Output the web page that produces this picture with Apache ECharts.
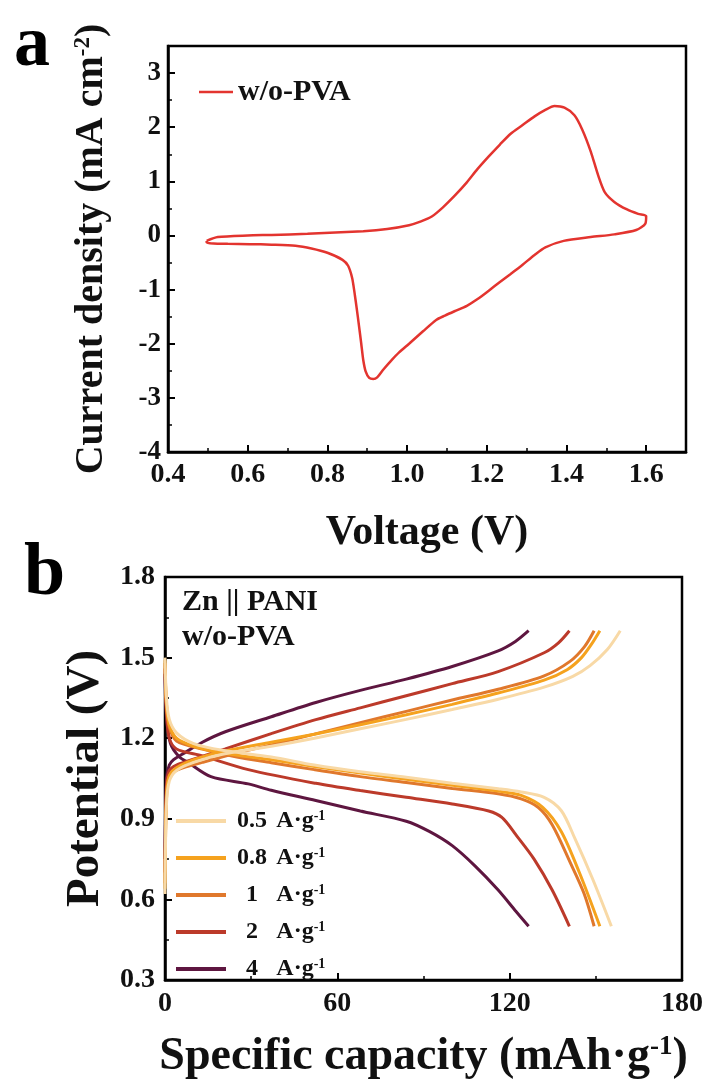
<!DOCTYPE html>
<html>
<head>
<meta charset="utf-8">
<script src="https://cdn.jsdelivr.net/npm/echarts@6/dist/echarts.min.js"></script>
<style>
html,body{margin:0;padding:0;background:#fff;}
#c{width:712px;height:1083px;}
</style>
</head>
<body>
<div id="c"></div>
<script>
// ---------- Panel a: CV loop (voltage V, current density mA cm-2) ----------
const cvLoop = [
  [0.497,-0.10],[0.525,-0.03],[0.60,0.00],[0.66,0.01],[0.75,0.03],[0.89,0.08],[0.95,0.12],
  [1.005,0.19],[1.035,0.26],[1.062,0.35],[1.09,0.52],[1.119,0.73],[1.15,0.98],[1.176,1.22],
  [1.205,1.46],[1.233,1.68],[1.26,1.88],[1.29,2.04],[1.32,2.20],[1.347,2.32],[1.370,2.39],
  [1.395,2.36],[1.42,2.22],[1.44,1.95],[1.461,1.55],[1.48,1.10],[1.496,0.80],[1.52,0.62],
  [1.552,0.48],[1.58,0.40],[1.600,0.36],[1.598,0.22],[1.575,0.10],[1.52,0.02],[1.461,-0.03],
  [1.393,-0.10],[1.347,-0.22],[1.32,-0.36],[1.29,-0.54],[1.26,-0.71],[1.233,-0.86],
  [1.205,-1.02],[1.176,-1.18],[1.15,-1.30],[1.119,-1.40],[1.095,-1.48],[1.073,-1.56],
  [1.04,-1.77],[1.005,-2.00],[0.98,-2.16],[0.959,-2.32],[0.94,-2.48],[0.925,-2.62],
  [0.915,-2.65],[0.905,-2.63],[0.896,-2.51],[0.89,-2.30],[0.885,-2.00],[0.879,-1.65],
  [0.874,-1.37],[0.868,-1.05],[0.862,-0.78],[0.852,-0.56],[0.838,-0.45],[0.80,-0.32],
  [0.76,-0.24],[0.72,-0.19],[0.66,-0.17],[0.605,-0.16],[0.55,-0.155],[0.514,-0.15],
  [0.497,-0.13],[0.497,-0.10]
];
const cvName = 'w/o-PVA';
const cvXTicks = [0.4, 1.7, 0.2];   // min, max, interval
const cvYTicks = [-4, 3.5, 1];

// ---------- Panel b: GCD curves (specific capacity mAh g-1, potential V) ----------
const rateNames = ['0.5', '0.8', '1', '2', '4'];
const charge05 = [[0,0.62],[0.5,0.95],[1.5,1.04],[4,1.08],[10,1.11],[20,1.14],[37,1.17],[52,1.20],[68,1.235],[84,1.27],[100,1.307],[116,1.345],[132,1.39],[142,1.43],[148,1.47],[154,1.53],[158.5,1.60]];
const charge08 = [[0,0.64],[0.5,0.97],[1.5,1.06],[4,1.09],[10,1.12],[20,1.15],[37,1.185],[52,1.215],[68,1.25],[84,1.287],[100,1.326],[116,1.368],[132,1.416],[140,1.455],[145,1.50],[148.5,1.55],[151.4,1.60]];
const charge1  = [[0,0.66],[0.5,0.99],[1.5,1.06],[5,1.085],[13,1.11],[25,1.145],[37,1.175],[52,1.215],[68,1.258],[84,1.30],[100,1.342],[116,1.382],[132,1.432],[141,1.486],[146,1.54],[149.4,1.60]];
const charge2  = [[0,0.70],[0.5,1.02],[1.5,1.08],[4,1.10],[8,1.115],[21,1.16],[37,1.217],[52.5,1.269],[68,1.313],[84,1.358],[100,1.403],[116,1.448],[132,1.518],[137,1.555],[140.8,1.60]];
const charge4  = [[0,0.75],[0.5,1.05],[1.5,1.10],[3,1.12],[6,1.14],[13,1.185],[21,1.224],[37,1.28],[52.5,1.333],[68,1.378],[84,1.42],[100,1.467],[116,1.525],[122,1.56],[126.6,1.60]];
const discharge05 = [[0,1.50],[0.5,1.35],[1.5,1.27],[4,1.22],[10,1.18],[20,1.155],[37,1.13],[52,1.10],[68,1.075],[84,1.055],[100,1.032],[116,1.012],[124,1.00],[132,0.98],[138,0.93],[142.7,0.827],[149,0.673],[155.4,0.50]];
const discharge08 = [[0,1.49],[0.5,1.33],[1.5,1.25],[4,1.20],[10,1.17],[20,1.145],[37,1.12],[52,1.095],[68,1.07],[84,1.047],[100,1.025],[116,1.003],[124,0.987],[131.6,0.942],[138,0.852],[144.3,0.699],[151.4,0.50]];
const discharge1  = [[0,1.48],[0.5,1.32],[1.5,1.24],[4,1.19],[13,1.16],[25,1.13],[37,1.109],[52,1.083],[68,1.057],[84,1.035],[100,1.013],[116,0.993],[124,0.974],[130,0.942],[134.8,0.878],[141.1,0.737],[145.9,0.622],[149.4,0.50]];
const discharge2  = [[0,1.46],[0.5,1.30],[1.5,1.20],[4,1.16],[13,1.134],[29,1.083],[52.5,1.032],[68,1.005],[84,0.98],[100,0.955],[112.7,0.929],[117.4,0.904],[122.2,0.84],[128.5,0.75],[134.8,0.635],[140.8,0.50]];
const discharge4  = [[0,1.44],[0.5,1.28],[1.9,1.18],[5,1.13],[8,1.11],[16,1.057],[29,1.03],[37,1.006],[52.5,0.968],[68,0.929],[84,0.891],[92,0.853],[100,0.80],[108,0.724],[116,0.635],[122,0.558],[126.6,0.50]];
const chargeCurves = [charge05, charge08, charge1, charge2, charge4];
const dischargeCurves = [discharge05, discharge08, discharge1, discharge2, discharge4];
const gcdXTicks = [0, 180, 60];
const gcdYTicks = [0.3, 1.8, 0.3];

const rateColors = ['#F8D9A6', '#F5A21E', '#E0782C', '#BC3A2A', '#5E1640'];
const FONT = '"Liberation Serif","Times New Roman",serif';

function axisCommon(ticks, labelSize, fmt, margin) {
  return {
    type: 'value', min: ticks[0], max: ticks[1], interval: ticks[2],
    axisLine: { show: true, onZero: false, lineStyle: { color: '#000', width: 2.5 } },
    axisTick: { show: true, inside: true, length: 7, lineStyle: { color: '#000', width: 2 } },
    minorTick: { show: true, splitNumber: 2, length: 4, lineStyle: { color: '#000', width: 1.5 } },
    splitLine: { show: false },
    axisLabel: { color: '#111', fontFamily: FONT, fontWeight: 'bold', fontSize: labelSize,
      margin: margin, showMaxLabel: false, formatter: fmt },
    nameTextStyle: { color: '#111', fontFamily: FONT, fontWeight: 'bold' }
  };
}

const series = [];
series.push({
  name: cvName, type: 'line', xAxisIndex: 0, yAxisIndex: 0, data: cvLoop,
  showSymbol: false, smooth: 0.25, lineStyle: { color: '#E3342F', width: 2.5 },
  itemStyle: { color: '#E3342F' }
});
rateNames.forEach((r, i) => {
  const nm = r + ' A·g-1';
  [chargeCurves[i], dischargeCurves[i]].forEach(d => {
    series.push({
      name: nm, type: 'line', xAxisIndex: 1, yAxisIndex: 1, data: d,
      showSymbol: false, smooth: 0.3, z: 10 - i,
      lineStyle: { color: rateColors[i], width: 3 }, itemStyle: { color: rateColors[i] }
    });
  });
});

function supRich(fs) {
  return {
    t: { fontFamily: FONT, fontWeight: 'bold', fontSize: fs, color: '#111' },
    s: { fontFamily: FONT, fontWeight: 'bold', fontSize: Math.round(fs * 0.58), color: '#111', verticalAlign: 'top', padding: [0, 0, Math.round(fs * 0.36), 0] }
  };
}

const xa = axisCommon(cvXTicks, 28, v => v.toFixed(1), 9);
Object.assign(xa, { gridIndex: 0, name: 'Voltage (V)', nameLocation: 'middle', nameGap: 60 });
xa.nameTextStyle.fontSize = 42;
const ya = axisCommon(cvYTicks, 27, v => String(v), 7);
Object.assign(ya, { gridIndex: 0, name: '{t|Current density (mA cm}{s|-2}{t|)}', nameLocation: 'middle', nameGap: 56 });
ya.nameTextStyle.rich = supRich(40);

const xb = axisCommon(gcdXTicks, 28, v => String(v), 10);
Object.assign(xb, { gridIndex: 1, name: '{t|Specific capacity (mAh·g}{s|-1}{t|)}', nameLocation: 'middle', nameGap: 54 });
xb.nameTextStyle.rich = supRich(46);
xb.axisLabel.showMaxLabel = true;
const yb = axisCommon(gcdYTicks, 28, v => v.toFixed(1), 10);
Object.assign(yb, { gridIndex: 1, name: 'Potential (V)', nameLocation: 'middle', nameGap: 56 });
yb.nameTextStyle.fontSize = 47;
yb.axisLabel.showMaxLabel = true;

const legRich = {
  n: { fontFamily: FONT, fontWeight: 'bold', fontSize: 24, color: '#111', width: 42, align: 'right' },
  u: { fontFamily: FONT, fontWeight: 'bold', fontSize: 24, color: '#111' },
  s: { fontFamily: FONT, fontWeight: 'bold', fontSize: 14, color: '#111', verticalAlign: 'top', padding: [0, 0, 10, 0] }
};

const option = {
  backgroundColor: '#fff',
  animation: false,
  grid: [
    { left: 168, top: 46, width: 518, height: 406, show: true, borderColor: '#000', borderWidth: 2.5, backgroundColor: 'transparent' },
    { left: 165, top: 577, width: 517, height: 403, show: true, borderColor: '#000', borderWidth: 2.5, backgroundColor: 'transparent' }
  ],
  xAxis: [xa, xb],
  yAxis: [ya, yb],
  legend: [
    { data: [cvName], left: 194, top: 72, orient: 'vertical', icon: 'rect', itemWidth: 34, itemHeight: 2.5,
      itemGap: 8, textStyle: { fontFamily: FONT, fontWeight: 'bold', fontSize: 30, color: '#111' } },
    { data: rateNames.map(r => r + ' A·g-1'), left: 171, top: 804, orient: 'vertical', icon: 'rect',
      itemWidth: 50, itemHeight: 4, itemGap: 13,
      formatter: name => { const p = name.split(' '); return '{n|' + p[0] + '} {u|A·g}{s|-1}'; },
      textStyle: { rich: legRich } }
  ],
  graphic: [
    { type: 'text', left: 14, top: 10, style: { text: 'a', font: 'bold 72px ' + FONT, fill: '#000' } },
    { type: 'text', left: 24, top: 538, style: { text: 'b', font: 'bold 74px ' + FONT, fill: '#000' } },
    { type: 'text', left: 182, top: 587, style: { text: 'Zn || PANI', font: 'bold 30px ' + FONT, fill: '#111' } },
    { type: 'text', left: 182, top: 622, style: { text: 'w/o-PVA', font: 'bold 30px ' + FONT, fill: '#111' } }
  ],
  series: series
};

const chart = echarts.init(document.getElementById('c'), null, { renderer: 'canvas' });
chart.setOption(option);
</script>
</body>
</html>
